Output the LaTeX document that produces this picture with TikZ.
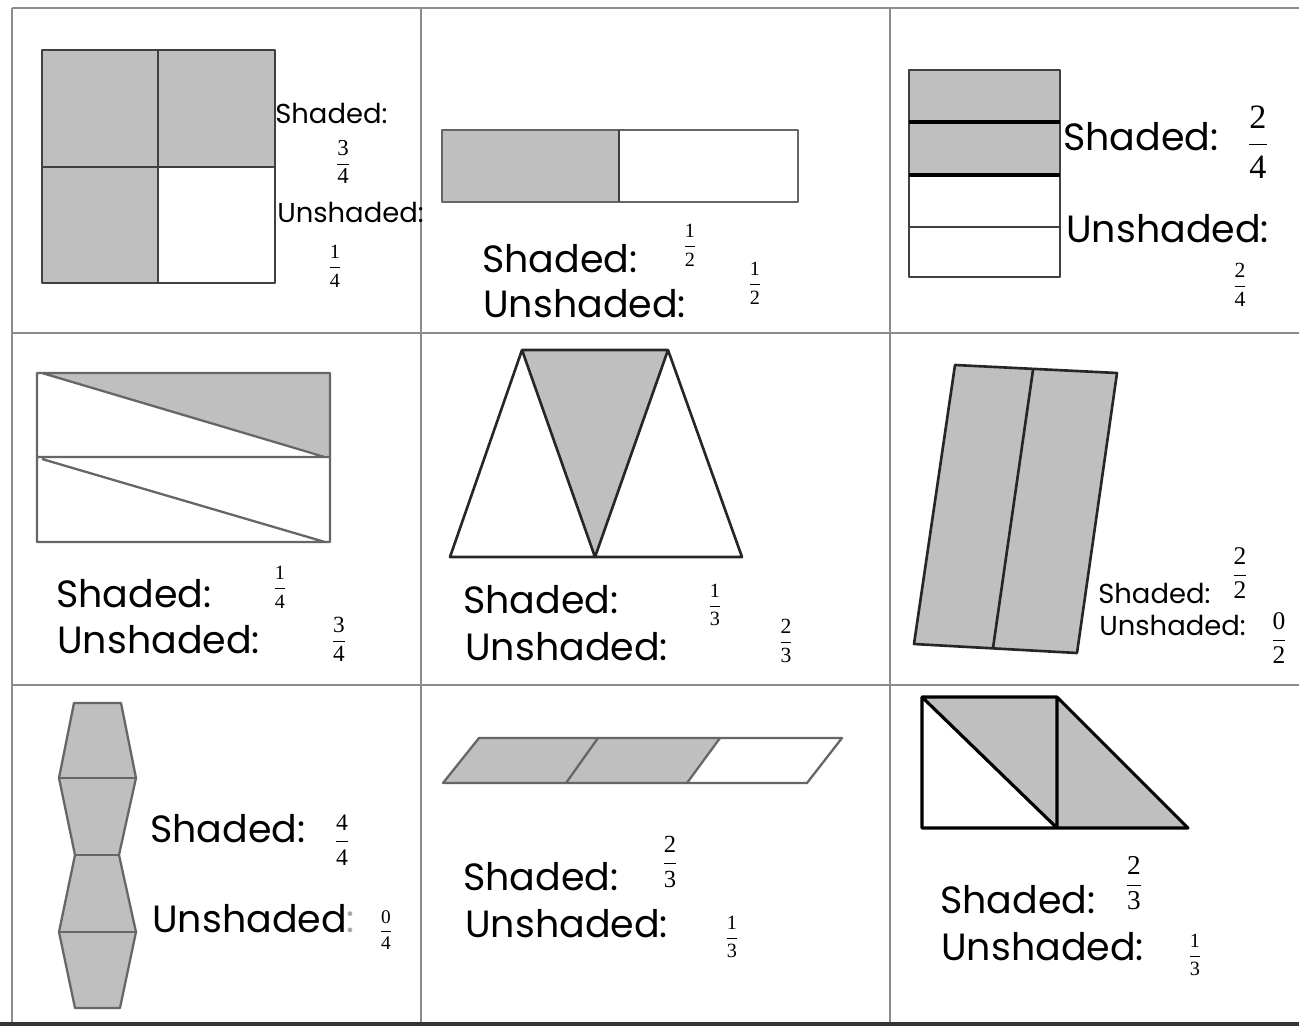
\documentclass[tikz,border=0pt]{standalone}
\usepackage{fontspec}
\setmainfont{Poppins}
\newfontfamily\fracfont{Liberation Serif}
\newcommand\myfr[3]{\fontsize{#1}{#1}\selectfont$\displaystyle\frac{\hbox{\fracfont #2}}{\hbox{\fracfont #3}}$}
\begin{document}
\begin{tikzpicture}[x=0.02cm,y=-0.02cm,
  grid/.style={draw=black!45,line width=1.6pt},
  shd/.style={fill=black!25},
  oblack/.style={draw=black!85,line width=1.5pt,line join=round},
  ogray/.style={draw=black!60,line width=1.3pt,line join=round},
  big/.style={font=\fontsize{21.6}{25}\selectfont,anchor=base west,inner sep=0pt},
  small/.style={font=\fontsize{15.6}{18}\selectfont,anchor=base west,inner sep=0pt},
  fr/.style={inner sep=0pt,anchor=center}]
\useasboundingbox (0,0) rectangle (1299,1028);
\fill[white] (0,0) rectangle (1299,1028);
% grid
\draw[grid] (12,8) -- (1299,8);
\draw[grid] (12,8) -- (12,1022);
\draw[grid] (421,8) -- (421,1022);
\draw[grid] (890,8) -- (890,1022);
\draw[grid] (12,333) -- (1299,333);
\draw[grid] (12,685) -- (1299,685);
\draw[draw=black!80,line width=2.4pt] (0,1024) -- (1299,1024);
% cell 1
\fill[shd] (42,50) rectangle (275,167);
\fill[shd] (42,167) rectangle (158,283);
\draw[ogray,draw=black!75,line width=1.5pt] (42,50) rectangle (275,283) (158,50) -- (158,283) (42,167) -- (275,167);
\node[small] (s1) at (275,123) {Shaded:};
\node[fr] (f1a) at (343,162) {\myfr{13}{3}{4}};
\node[small] (u1) at (277,222) {Unshaded:};
\node[fr] (f1b) at (335,266) {\myfr{11.5}{1}{4}};
% cell 2
\fill[shd] (442,130) rectangle (619,202);
\draw[ogray] (442,130) rectangle (798,202);
\draw[ogray,draw=black!75] (619,130) -- (619,202);
\node[big] (s2) at (482,272) {Shaded:};
\node[fr] (f2a) at (690,245) {\myfr{11.5}{1}{2}};
\node[big] (u2) at (483,317) {Unshaded:};
\node[fr] (f2b) at (755,283) {\myfr{11.5}{1}{2}};
% cell 3
\fill[shd] (909,70) rectangle (1060,175);
\draw[oblack,draw=black!75] (909,70) rectangle (1060,277) (909,227) -- (1060,227);
\draw[draw=black,line width=2pt] (909,122) -- (1060,122) (909,175) -- (1060,175);
\node[big] (s3) at (1063,150) {Shaded:};
\node[fr] (f3a) at (1258,142) {\myfr{19.4}{2}{4}};
\node[big] (u3) at (1066,242) {Unshaded:};
\node[fr] (f3b) at (1240,285) {\myfr{12.3}{2}{4}};
% cell 4
\fill[shd] (40,373) -- (330,373) -- (330,457) -- cycle;
\draw[ogray] (37,373) rectangle (330,542) (37,457) -- (330,457)
  (42,373) -- (325,457) (42,459) -- (325,542);
\node[big] (s4) at (56,607) {Shaded:};
\node[fr] (f4a) at (280,587) {\myfr{11.5}{1}{4}};
\node[big] (u4) at (57,653) {Unshaded:};
\node[fr] (f4b) at (339,639) {\myfr{13.2}{3}{4}};
% cell 5
\fill[shd] (522,350) -- (668,350) -- (595,557) -- cycle;
\draw[oblack] (450,557) -- (742,557) -- (668,350) -- (522,350) -- cycle
  (522,350) -- (595,557) -- (668,350);
\node[big] (s5) at (463,613) {Shaded:};
\node[fr] (f5a) at (715,605) {\myfr{11.5}{1}{3}};
\node[big] (u5) at (465,660) {Unshaded:};
\node[fr] (f5b) at (786,641) {\myfr{12.3}{2}{3}};
% cell 6
\filldraw[shd,oblack] (955,365) -- (1117,373) -- (1077,653) -- (914,644) -- cycle;
\draw[oblack] (1033,370) -- (993,648);
\node[small] (s6) at (1098,603) {Shaded:};
\node[fr] (f6a) at (1240,573) {\myfr{14.5}{2}{2}};
\node[small] (u6) at (1099,635) {Unshaded:};
\node[fr] (f6b) at (1279,638) {\myfr{14.5}{0}{2}};
% cell 7
\filldraw[shd,ogray] (74,703) -- (121,703) -- (136,778) -- (119,855) -- (136,932) -- (120,1008)
  -- (75,1008) -- (59,932) -- (75,855) -- (59,778) -- cycle;
\draw[ogray] (59,778) -- (136,778) (75,855) -- (119,855) (59,932) -- (136,932);
\node[big] (s7) at (150,842) {Shaded:};
\node[fr] (f7a) at (342,840) {\myfr{13.5}{4}{4}};
\node[big] (u7) at (152,932) {Unshaded\textcolor{black!35}{:}};
\node[fr] (f7b) at (386,930) {\myfr{11}{0}{4}};
% cell 8
\fill[shd] (443,783) -- (479,738) -- (720,738) -- (687,783) -- cycle;
\draw[ogray] (443,783) -- (479,738) -- (842,738) -- (807,783) -- cycle
  (598,738) -- (566,783) (720,738) -- (687,783);
\node[big] (s8) at (463,890) {Shaded:};
\node[fr] (f8a) at (670,862) {\myfr{14}{2}{3}};
\node[big] (u8) at (465,937) {Unshaded:};
\node[fr] (f8b) at (732,937) {\myfr{11.5}{1}{3}};
% cell 9
\fill[shd] (922,697) -- (1057,697) -- (1057,828) -- cycle;
\fill[shd] (1057,697) -- (1188,828) -- (1057,828) -- cycle;
\draw[oblack,draw=black,line width=1.8pt] (922,697) rectangle (1057,828) (922,697) -- (1057,828)
  (1057,697) -- (1188,828) -- (1057,828);
\node[big] (s9) at (940,913) {Shaded:};
\node[fr] (f9a) at (1134,883) {\myfr{15.5}{2}{3}};
\node[big] (u9) at (941,960) {Unshaded:};
\node[fr] (f9b) at (1195,955) {\myfr{11.5}{1}{3}};
\end{tikzpicture}
\end{document}
